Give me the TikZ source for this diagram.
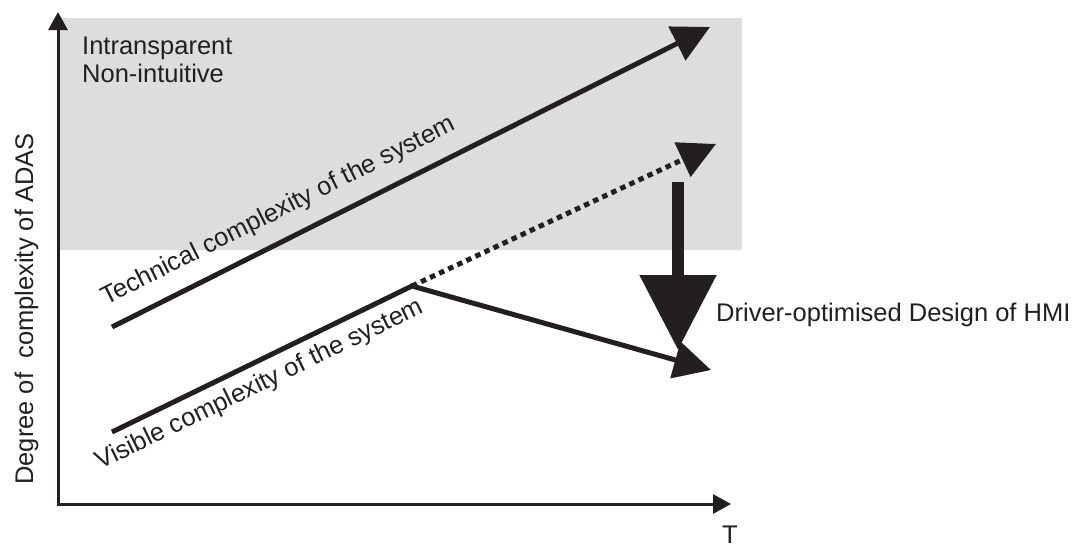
\documentclass[tikz,border=0pt]{standalone}
\usepackage{fontspec}
\setmainfont{Liberation Sans}
\usetikzlibrary{arrows.meta}
\definecolor{ink}{RGB}{35,31,32}
\definecolor{boxgray}{RGB}{221,221,221}
\begin{document}
\begin{tikzpicture}[x=1pt,y=-1pt,
  lbl/.style={font=\fontsize{25.5}{30}\selectfont, text=ink, inner sep=0pt},
  axisline/.style={draw=ink, line width=3pt, shorten <=-1.5pt,
    -{Triangle[length=18pt,width=19pt]}},
  trend/.style={draw=ink, line width=5pt, line join=miter,
    -{Triangle[length=37pt,width=37pt]}},
  hidden/.style={trend, dash pattern=on 5.5pt off 4.5pt},
  reduce/.style={draw=ink, line width=12pt,
    -{Triangle[length=75pt,width=74pt]}}]
\useasboundingbox (0,0) rectangle (1077,544);

% shaded region of opaque, non-intuitive systems
\fill[boxgray] (60,18) rectangle (742,250);

% axes
\coordinate (o) at (58,504);
\coordinate (ytip) at (58,12);
\coordinate (xtip) at (731,504);
\draw[axisline] (o) -- (ytip);
\draw[axisline] (o) -- (xtip);

% key points of the curves
\coordinate (t1) at (112,327);
\coordinate (t2) at (710,27);
\coordinate (v1) at (112,432);
\coordinate (vp) at (412,286);
\coordinate (v2) at (711,370);
\coordinate (v3) at (716,144);
\coordinate (d1) at (678,182);
\coordinate (d2) at (678,350);

% technical complexity
\draw[trend] (t1) -- node[lbl, sloped, anchor=base, pos=0.30, yshift=22pt] (tlab)
  {Technical complexity of the system} (t2);

% continued (hidden) growth of complexity
\draw[hidden] (vp) -- (v3);

% reduction by HMI design
\draw[reduce] (d1) -- (d2);

% visible complexity
\draw[trend] (v1) -- node[lbl, sloped, anchor=base, pos=0.46, yshift=-29pt] (vlab)
  {Visible complexity of the system} (vp) -- (v2);

% labels
\node[lbl, anchor=base west] (intr) at (82,54) {Intransparent};
\node[lbl, anchor=base west] (nonint) at (82,82) {Non-intuitive};
\node[lbl, anchor=base, rotate=90] (ylab) at (33,309) {Degree of\ \ complexity of ADAS};
\node[lbl, anchor=base] (tax) at (730,543) {T};
\node[lbl, anchor=base west] (hmi) at (716,321) {Driver-optimised Design of HMI};
\end{tikzpicture}
\end{document}
